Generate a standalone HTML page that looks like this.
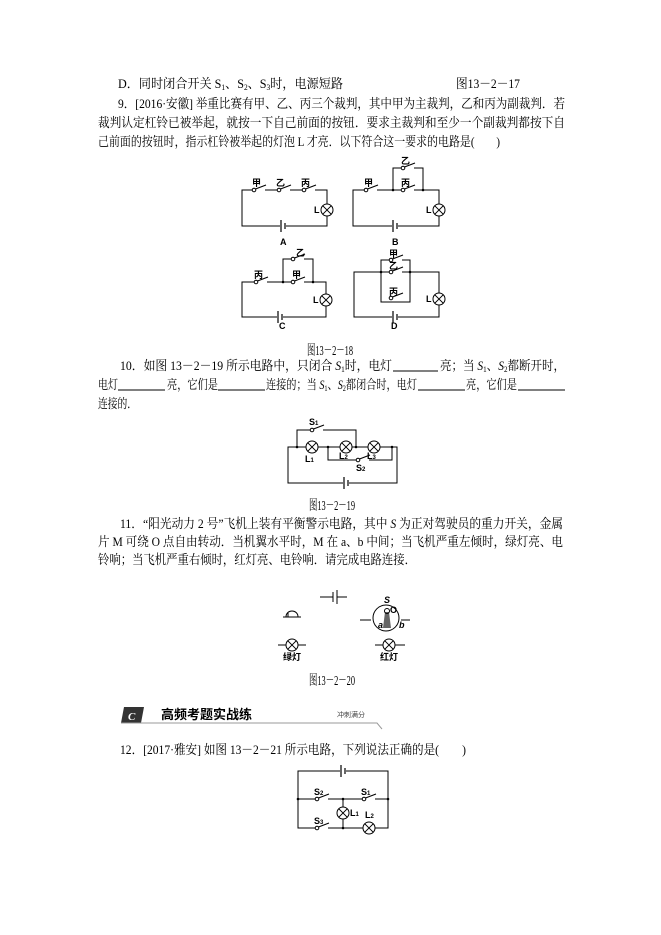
<!DOCTYPE html>
<html><head><meta charset="utf-8"><style>
html,body{margin:0;padding:0;background:#fff;}
svg{display:block;}
text{font-family:"Liberation Serif","Noto Serif CJK SC","Noto Sans CJK SC",serif;font-size:13px;fill:#000;}
.b{font-family:"Liberation Sans","Noto Sans CJK SC",sans-serif;font-weight:bold;font-size:9px;}
.cap{font-size:14px;}
</style></head><body>
<svg width="661" height="935" viewBox="0 0 661 935" xmlns="http://www.w3.org/2000/svg">
<defs>
<g id="lamp"><circle r="6" fill="#fff" stroke="#000"/><path d="M-4.2,-4.2L4.2,4.2M-4.2,4.2L4.2,-4.2" stroke="#000"/></g>
<g id="sw"><rect x="-1" y="-2" width="12" height="4" fill="#fff"/><circle cx="0" cy="0" r="1.8" fill="#fff" stroke="#000"/><path d="M1.5,-1L12,-5" stroke="#000"/></g>
<g id="bat"><rect x="-3" y="-7" width="6" height="14" fill="#fff"/><path d="M-2,-6V6M2,-3V3" stroke="#000" stroke-width="1.2"/></g>
</defs>

<!-- Text Q8 D -->
<text x="118" y="88" textLength="225" lengthAdjust="spacingAndGlyphs">D．同时闭合开关 S<tspan font-size="8" dy="2">1</tspan><tspan dy="-2">、S</tspan><tspan font-size="8" dy="2">2</tspan><tspan dy="-2">、S</tspan><tspan font-size="8" dy="2">3</tspan><tspan dy="-2">时，电源短路</tspan></text>
<text x="456" y="88" textLength="64" lengthAdjust="spacingAndGlyphs">图13－2－17</text>
<!-- Q9 -->
<text x="118" y="108" textLength="447" lengthAdjust="spacingAndGlyphs">9．[2016·安徽] 举重比赛有甲、乙、丙三个裁判，其中甲为主裁判，乙和丙为副裁判．若</text>
<text x="98" y="127" textLength="467" lengthAdjust="spacingAndGlyphs">裁判认定杠铃已被举起，就按一下自己前面的按钮．要求主裁判和至少一个副裁判都按下自</text>
<text x="98" y="146" textLength="402" lengthAdjust="spacingAndGlyphs">己前面的按钮时，指示杠铃被举起的灯泡 L 才亮．以下符合这一要求的电路是(　　)</text>

<!-- Fig 13-2-18 -->
<g fill="none" stroke="#000">
 <path d="M242,190H327V226H242Z"/>
 <path d="M353,190H439V226H353Z"/><path d="M393,190V168H423V190"/>
 <path d="M242,282H326V317H242Z"/><path d="M283,282V259H313V282"/>
 <path d="M354,272H439V317H354Z"/><path d="M381,260H410V302H381Z"/>
</g>
<g fill="#000"><circle cx="393" cy="190" r="1.3"/><circle cx="423" cy="190" r="1.3"/><circle cx="283" cy="282" r="1.3"/><circle cx="313" cy="282" r="1.3"/><circle cx="381" cy="272" r="1.3"/><circle cx="410" cy="272" r="1.3"/></g>
<use href="#sw" x="254" y="190"/><use href="#sw" x="279" y="190"/><use href="#sw" x="304" y="190"/>
<use href="#lamp" x="327" y="210"/><use href="#bat" x="283" y="226"/>
<text class="b" x="252" y="186">甲</text><text class="b" x="276" y="186">乙</text><text class="b" x="301" y="186">丙</text>
<text class="b" x="314" y="213">L</text><text class="b" x="280" y="245">A</text>
<use href="#sw" x="366" y="190"/><use href="#sw" x="403" y="168"/><use href="#sw" x="403" y="190"/>
<use href="#lamp" x="439" y="210"/><use href="#bat" x="395" y="226"/>
<text class="b" x="364" y="186">甲</text><text class="b" x="401" y="164">乙</text><text class="b" x="401" y="186">丙</text>
<text class="b" x="426" y="213">L</text><text class="b" x="392" y="245">B</text>
<use href="#sw" x="256" y="282"/><use href="#sw" x="293" y="259"/><use href="#sw" x="293" y="282"/>
<use href="#lamp" x="326" y="300"/><use href="#bat" x="280" y="317"/>
<text class="b" x="254" y="278">丙</text><text class="b" x="296" y="256">乙</text><text class="b" x="292" y="278">甲</text>
<text class="b" x="313" y="303">L</text><text class="b" x="279" y="329">C</text>
<use href="#sw" x="391" y="260"/><use href="#sw" x="391" y="272"/><use href="#sw" x="391" y="298"/>
<use href="#lamp" x="439" y="299"/><use href="#bat" x="395" y="317"/>
<text class="b" x="389" y="257">甲</text><text class="b" x="389" y="269">乙</text><text class="b" x="389" y="295">丙</text>
<text class="b" x="426" y="302">L</text><text class="b" x="391" y="329">D</text>
<text class="cap" x="307" y="355" textLength="46" lengthAdjust="spacingAndGlyphs">图13－2－18</text>

<!-- Q10 -->
<text x="120" y="370" textLength="272" lengthAdjust="spacingAndGlyphs">10．如图 13－2－19 所示电路中，只闭合 <tspan font-style="italic">S</tspan><tspan font-size="8" dy="2">1</tspan><tspan dy="-2">时，电灯</tspan></text>
<path d="M393,371H438" stroke="#000"/>
<text x="440" y="370" textLength="125" lengthAdjust="spacingAndGlyphs">亮；当 <tspan font-style="italic">S</tspan><tspan font-size="8" dy="2">1</tspan><tspan dy="-2">、</tspan><tspan font-style="italic">S</tspan><tspan font-size="8" dy="2">2</tspan><tspan dy="-2">都断开时，</tspan></text>
<text x="98" y="389" textLength="20" lengthAdjust="spacingAndGlyphs">电灯</text>
<path d="M118,390H165" stroke="#000"/>
<text x="167" y="389" textLength="51" lengthAdjust="spacingAndGlyphs">亮，它们是</text>
<path d="M218,390H265" stroke="#000"/>
<text x="266" y="389" textLength="151" lengthAdjust="spacingAndGlyphs">连接的；当 <tspan font-style="italic">S</tspan><tspan font-size="8" dy="2">1</tspan><tspan dy="-2">、</tspan><tspan font-style="italic">S</tspan><tspan font-size="8" dy="2">2</tspan><tspan dy="-2">都闭合时，电灯</tspan></text>
<path d="M418,390H465" stroke="#000"/>
<text x="466" y="389" textLength="51" lengthAdjust="spacingAndGlyphs">亮，它们是</text>
<path d="M518,390H565" stroke="#000"/>
<text x="98" y="408" textLength="39" lengthAdjust="spacingAndGlyphs">连接的．</text>

<!-- Fig 13-2-19 -->
<g fill="none" stroke="#000">
 <path d="M288,447H397V483H288Z"/>
 <path d="M297,447V430H356V447"/>
 <path d="M328,447V460H392V447"/>
</g>
<g fill="#000"><circle cx="297" cy="447" r="1.3"/><circle cx="328" cy="447" r="1.3"/><circle cx="356" cy="447" r="1.3"/><circle cx="392" cy="447" r="1.3"/></g>
<use href="#lamp" x="312" y="447"/><use href="#lamp" x="346" y="447"/><use href="#lamp" x="374" y="447"/>
<use href="#sw" x="312" y="430"/><use href="#sw" x="358" y="460"/><use href="#bat" x="346" y="483"/>
<text class="b" x="309" y="425">S<tspan font-size="6">1</tspan></text>
<text class="b" x="305" y="462">L<tspan font-size="6">1</tspan></text>
<text class="b" x="339" y="459">L<tspan font-size="6">2</tspan></text>
<text class="b" x="367" y="459">L<tspan font-size="6">3</tspan></text>
<text class="b" x="356" y="471">S<tspan font-size="6">2</tspan></text>
<text class="cap" x="309" y="510" textLength="46" lengthAdjust="spacingAndGlyphs">图13－2－19</text>

<!-- Q11 -->
<text x="120" y="528" textLength="443" lengthAdjust="spacingAndGlyphs">11．“阳光动力 2 号”飞机上装有平衡警示电路，其中 <tspan font-style="italic">S</tspan> 为正对驾驶员的重力开关，金属</text>
<text x="98" y="546" textLength="465" lengthAdjust="spacingAndGlyphs">片 M 可绕 O 点自由转动．当机翼水平时，M 在 a、b 中间；当飞机严重左倾时，绿灯亮、电</text>
<text x="98" y="564" textLength="318" lengthAdjust="spacingAndGlyphs">铃响；当飞机严重右倾时，红灯亮、电铃响．请完成电路连接．</text>

<!-- Fig 13-2-20 -->
<g fill="none" stroke="#000">
 <path d="M320,597H333M333,592V602M337,590V604M337,597H347"/>
 <path d="M283,617H301M286,617C286,609 298,609 298,617M288,617V613" />
 <circle cx="386" cy="618" r="13"/>
 <path d="M360,620H371M401,620H410"/>
 <path d="M278,645H286M298,645H306M375,645H383M395,645H405"/>
</g>
<path d="M383,628L385,612L389,612L391,628Z" fill="#666"/>
<circle cx="387" cy="611" r="2.5" fill="none" stroke="#000"/>
<text class="b" x="384" y="603" font-style="italic">S</text>
<text class="b" x="378" y="628" font-style="italic">a</text>
<text class="b" x="399" y="628" font-style="italic">b</text>
<text class="b" x="390" y="613">O</text>
<use href="#lamp" x="292" y="645"/><use href="#lamp" x="389" y="645"/>
<text class="b" x="283" y="660">绿灯</text><text class="b" x="380" y="660">红灯</text>
<text class="cap" x="309" y="685" textLength="46" lengthAdjust="spacingAndGlyphs">图13－2－20</text>

<!-- Section header -->
<path d="M124,707H144L141,723H121Z" fill="#333"/>
<text x="128" y="720" style="font-size:11px;fill:#fff;font-style:italic;font-weight:bold">C</text>
<path d="M121,723H377L382,729" fill="none" stroke="#999" stroke-width="1"/>
<text x="161" y="719" style="font-family:'Noto Sans CJK SC',sans-serif;font-size:13px;font-weight:bold">高频考题实战练</text>
<text x="337" y="717" style="font-family:'Noto Sans CJK SC',sans-serif;font-size:7px;fill:#444">冲刺满分</text>

<!-- Q12 -->
<text x="120" y="754" textLength="346" lengthAdjust="spacingAndGlyphs">12．[2017·雅安] 如图 13－2－21 所示电路，下列说法正确的是(　　)</text>
<g fill="none" stroke="#000">
 <path d="M298,771H388V828H298Z"/>
 <path d="M298,799H388"/>
 <path d="M343,799V828"/>
</g>
<g fill="#000"><circle cx="298" cy="799" r="1.3"/><circle cx="388" cy="799" r="1.3"/><circle cx="343" cy="799" r="1.3"/><circle cx="343" cy="828" r="1.3"/></g>
<use href="#bat" x="343" y="771"/>
<use href="#sw" x="317" y="799"/><use href="#sw" x="364" y="799"/><use href="#sw" x="317" y="828"/>
<use href="#lamp" x="343" y="813"/><use href="#lamp" x="369" y="828"/>
<text class="b" x="314" y="795">S<tspan font-size="6">2</tspan></text>
<text class="b" x="361" y="795">S<tspan font-size="6">1</tspan></text>
<text class="b" x="314" y="824">S<tspan font-size="6">3</tspan></text>
<text class="b" x="350" y="816">L<tspan font-size="6">1</tspan></text>
<text class="b" x="365" y="818">L<tspan font-size="6">2</tspan></text>
</svg>
</body></html>
